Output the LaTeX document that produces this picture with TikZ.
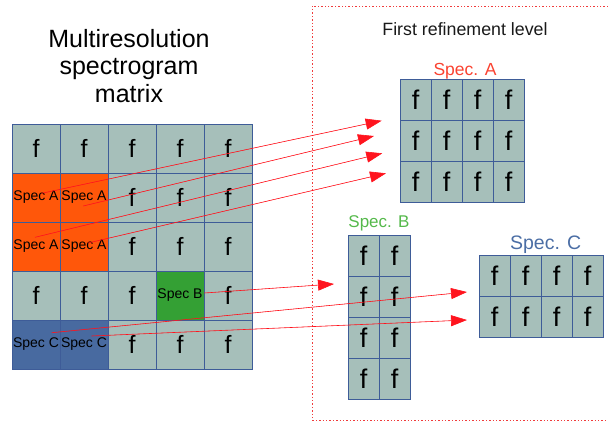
\documentclass[tikz,border=0pt]{standalone}
\usepackage{fontspec}
\setmainfont{Liberation Sans}
\usetikzlibrary{arrows.meta,calc}
\definecolor{cellgrey}{RGB}{166,191,186}
\definecolor{gridblue}{RGB}{62,92,152}
\definecolor{specorange}{RGB}{255,87,10}
\definecolor{specgreen}{RGB}{52,160,52}
\definecolor{specblue}{RGB}{72,106,160}
\definecolor{labela}{RGB}{250,66,48}
\definecolor{labelb}{RGB}{85,185,75}
\definecolor{labelc}{RGB}{75,110,165}
\definecolor{arrowred}{RGB}{255,20,30}
\definecolor{boxred}{RGB}{240,60,60}
\newcommand\spectxt{\fontsize{14}{14}\selectfont}
\tikzset{
  cell/.style={draw=gridblue, line width=0.8pt, fill=cellgrey, inner sep=0pt,
    minimum width=48pt, minimum height=49pt, font=\fontsize{25}{25}\selectfont},
  kind f/.style={cell, node contents=f},
  kind A/.style={cell, fill=specorange, font=\spectxt, node contents={Spec A}},
  kind B/.style={cell, fill=specgreen, font=\spectxt, node contents={Spec B}},
  kind C/.style={cell, fill=specblue, font=\spectxt, node contents={Spec C}},
  fine/.style={cell, minimum width=31pt, minimum height=41pt,
    font=\fontsize{27}{27}\selectfont, node contents=f},
  speclabel/.style={anchor=south, inner sep=0pt},
  refarrow/.style={-{Triangle[length=16pt,width=11pt]}, line width=0.6pt, draw=arrowred, fill=arrowred},
  levelbox/.style={draw=boxred, line width=0.9pt, dash pattern=on 1.4pt off 2pt},
}
\begin{document}
\begin{tikzpicture}[x=1pt,y=-1pt]
\useasboundingbox (0,0) rectangle (608,423);
% refinement frame, left open on the right
\draw[levelbox] (615,6) -| (312,420) -- (615,420);
\node[align=center, font=\fontsize{25}{27.5}\selectfont] (mtitle) at (129,66) {Multiresolution\\spectrogram\\matrix};
\node[font=\fontsize{17.8}{17.8}\selectfont, text=black!90] (ltitle) at (465,29.5) {First refinement level};
% coarse matrix, one entry per row
\foreach \r/\kinds in {0/{f,f,f,f,f},1/{A,A,f,f,f},2/{A,A,f,f,f},3/{f,f,f,B,f},4/{C,C,f,f,f}}
  \foreach \k [count=\c from 0] in \kinds
    \node (m-\r-\c) at ({36+48*\c},{148.5+49*\r}) [kind \k];
% refined blocks
\foreach \r in {0,...,2}
  \foreach \c in {0,...,3}
    \node (a-\r-\c) at ({415.5+31*\c},{99.5+41*\r}) [fine];
\foreach \r in {0,...,3}
  \foreach \c in {0,...,1}
    \node (b-\r-\c) at ({363.5+31*\c},{255.5+41*\r}) [fine];
\foreach \r in {0,...,1}
  \foreach \c in {0,...,3}
    \node (c-\r-\c) at ({494.5+31*\c},{275.5+41*\r}) [fine];
\node[speclabel, text=labela, font=\fontsize{17.5}{17.5}\selectfont] (la) at (465,79) {Spec. A};
\node[speclabel, text=labelb, font=\fontsize{17}{17}\selectfont] (lb) at (379,231) {Spec. B};
\node[speclabel, text=labelc, font=\fontsize{19.5}{19.5}\selectfont] (lc) at (545.7,254) {Spec. C};
% arrow tips in front of the refined blocks
\coordinate (ta1) at (381.7,120.7);
\coordinate (ta2) at (374,136);
\coordinate (ta3) at (382.3,153.3);
\coordinate (ta4) at (386,173.3);
\coordinate (tb) at (334,284);
\coordinate (tc1) at (467,292);
\coordinate (tc2) at (467,320);
\foreach \s/\o/\t in {m-1-0/{5.7,-4.2}/ta1, m-1-1/{-0.7,8.5}/ta2, m-2-0/{-1,-9.2}/ta3,
    m-2-1/{4,-3.5}/ta4, m-3-3.east/{0,-2.5}/tb, m-4-0/{15.7,-11.8}/tc1, m-4-1/{7.7,-8.5}/tc2}
  \draw[refarrow] ($(\s)+(\o)$) -- (\t);
\end{tikzpicture}
\end{document}
